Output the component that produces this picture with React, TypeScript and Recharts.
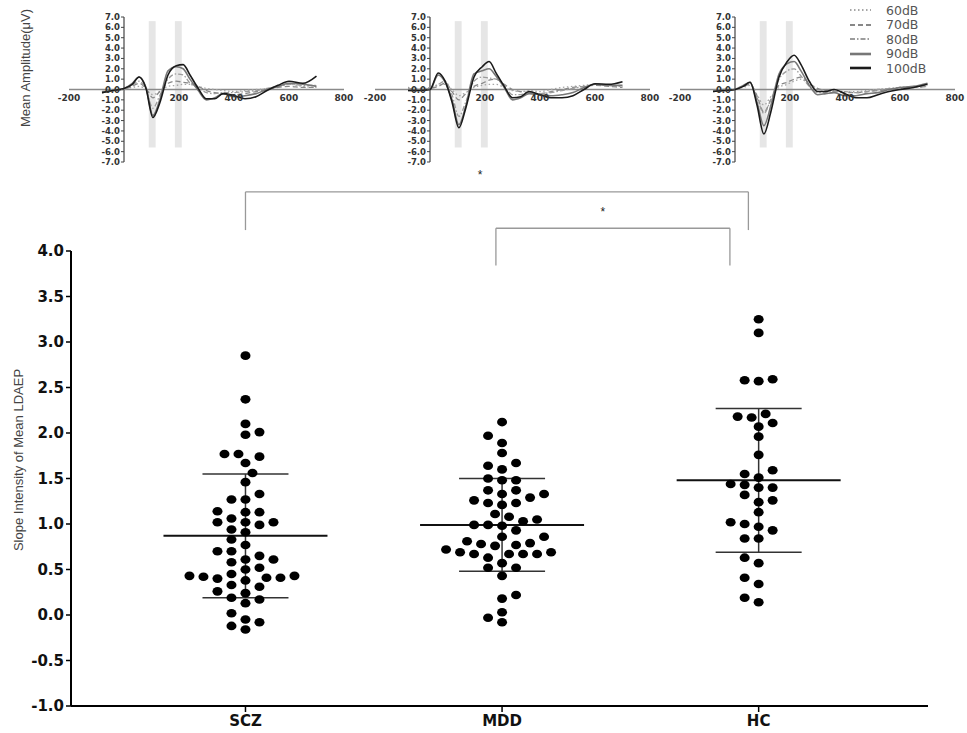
import React from 'react';
import {
  ScatterChart, Scatter, LineChart, Line, XAxis, YAxis, ErrorBar,
  ReferenceLine, ReferenceArea, ReferenceDot, Legend,
} from 'recharts';

// ---- slope dot plot data ----
const groups = ['SCZ', 'MDD', 'HC'];
const sczSlope = [
  2.85, 2.37, 2.10, 1.98, 2.01, 1.77, 1.74, 1.77, 1.67, 1.56, 1.46, 1.27, 1.27, 1.33,
  1.13, 1.13, 1.14, 1.02, 1.02, 1.06, 0.99, 1.02, 0.94, 0.91, 0.83, 0.77, 0.70, 0.70,
  0.61, 0.61, 0.65, 0.58, 0.52, 0.50, 0.45, 0.38, 0.41, 0.43, 0.42, 0.41, 0.43, 0.40,
  0.33, 0.31, 0.26, 0.24, 0.17, 0.13, 0.19, 0.02, -0.08, -0.05, -0.16, -0.12,
];
const mddSlope = [
  2.12, 1.97, 1.89, 1.78, 1.64, 1.60, 1.67, 1.48, 1.50, 1.48, 1.33, 1.37, 1.37, 1.33,
  1.26, 1.29, 1.23, 1.21, 1.23, 1.11, 1.08, 1.05, 1.03, 0.98, 0.99, 0.99, 0.93, 0.86,
  0.86, 0.79, 0.77, 0.78, 0.81, 0.76, 0.72, 0.69, 0.67, 0.67, 0.67, 0.67, 0.69, 0.63,
  0.52, 0.57, 0.52, 0.43, 0.22, 0.18, 0.03, -0.03, -0.08,
];
const hcSlope = [
  3.25, 3.10, 2.59, 2.57, 2.58, 2.21, 2.17, 2.18, 2.07, 2.11, 1.96, 1.76, 1.59, 1.55,
  1.51, 1.40, 1.43, 1.40, 1.44, 1.32, 1.24, 1.26, 1.13, 1.02, 0.97, 0.93, 1.00, 0.84,
  0.84, 0.57, 0.63, 0.41, 0.34, 0.14, 0.19,
];
const groupMean = [0.87, 0.99, 1.48];
const groupSd = [0.68, 0.51, 0.79];
const slopeTicks = [-1, -0.5, 0, 0.5, 1, 1.5, 2, 2.5, 3, 3.5, 4];

// ---- ERP waveforms (ms, µV) ----
const erpTime = [-80, -40, 0, 30, 55, 80, 105, 130, 160, 190, 215, 240, 270, 300, 330, 360, 400, 440, 480, 520, 560, 600, 650, 700];
const ampTicks = [-7, -6, -5, -4, -3, -2, -1, 0, 1, 2, 3, 4, 5, 6, 7];
const timeTicks = [-200, 200, 400, 600, 800];
const levels = ['60dB', '70dB', '80dB', '90dB', '100dB'];

const scz60 = [-0.2, 0.0, 0.1, 0.2, 0.3, 0.0, -0.5, -0.2, 0.3, 0.4, 0.5, 0.5, 0.3, 0.1, 0.0, -0.1, -0.2, -0.1, 0.0, 0.1, 0.3, 0.5, 0.3, 0.2];
const scz70 = [-0.2, -0.1, 0.0, 0.3, 0.6, 0.1, -0.8, -0.2, 0.6, 0.8, 0.7, 0.6, 0.3, -0.1, -0.3, -0.4, -0.5, -0.4, -0.2, 0.0, 0.2, 0.3, 0.2, 0.2];
const scz80 = [-0.2, -0.1, 0.0, 0.4, 0.8, 0.0, -1.8, -0.6, 1.0, 1.5, 1.4, 0.6, 0.2, -0.3, -0.4, -0.3, -0.3, -0.2, -0.1, 0.1, 0.3, 0.5, 0.4, 0.4];
const scz90 = [-0.3, -0.1, 0.1, 0.6, 1.2, 0.2, -2.5, -1.0, 1.8, 2.2, 2.0, 1.0, -0.1, -1.0, -0.8, -0.4, -0.7, -0.6, -0.4, 0.0, 0.3, 0.6, 0.5, 0.3];
const scz100 = [-0.3, -0.1, 0.1, 0.5, 1.2, 0.1, -2.7, -1.3, 1.4, 2.3, 2.4, 1.4, 0.1, -0.9, -0.9, -0.4, -0.6, -0.9, -0.7, -0.1, 0.4, 0.8, 0.6, 1.3];

const mdd60 = [0.2, 0.1, 0.2, 0.4, 0.5, 0.0, -0.6, -0.3, 0.2, 0.4, 0.5, 0.5, 0.2, -0.1, -0.2, -0.1, -0.2, 0.0, 0.2, 0.3, 0.4, 0.5, 0.4, 0.3];
const mdd70 = [0.1, 0.0, 0.1, 0.3, 0.6, -0.2, -1.0, -0.4, 0.3, 0.6, 0.9, 1.0, 0.5, 0.0, -0.2, -0.3, -0.4, -0.2, 0.0, 0.2, 0.3, 0.4, 0.3, 0.2];
const mdd80 = [0.1, 0.0, 0.2, 0.5, 0.8, -0.5, -2.6, -1.2, 0.8, 1.2, 1.1, 1.0, 0.4, -0.5, -0.5, -0.3, -0.4, -0.3, -0.1, 0.1, 0.3, 0.5, 0.4, 0.3];
const mdd90 = [-0.1, -0.1, 0.0, 1.4, 0.7, -1.0, -3.4, -1.6, 1.5, 1.8, 2.0, 1.3, 0.2, -1.0, -0.8, -0.4, -0.5, -0.6, -0.5, -0.3, 0.2, 0.5, 0.4, 0.4];
const mdd100 = [-0.1, -0.1, 0.0, 1.6, 0.8, -1.2, -3.7, -1.8, 1.2, 2.2, 2.7, 1.6, 0.3, -0.8, -0.7, -0.2, -0.5, -0.8, -0.8, -0.6, 0.0, 0.55, 0.5, 0.75];

const hc60 = [-0.1, 0.0, 0.0, 0.2, 0.4, -0.5, -1.5, -0.7, 0.2, 0.5, 0.8, 1.0, 0.5, 0.1, -0.1, -0.1, -0.2, -0.2, -0.1, 0.0, 0.1, 0.1, 0.2, 0.3];
const hc70 = [-0.1, 0.0, 0.0, 0.3, 0.5, -0.6, -2.2, -1.0, 0.4, 0.7, 1.0, 1.2, 0.6, 0.1, -0.1, -0.2, -0.3, -0.3, -0.2, -0.1, 0.0, 0.2, 0.2, 0.3];
const hc80 = [-0.1, 0.0, 0.0, 0.3, 0.6, -0.8, -2.3, -1.0, 1.0, 1.8, 2.0, 1.3, 0.3, -0.3, -0.3, -0.2, -0.2, -0.3, -0.2, 0.0, 0.1, 0.2, 0.3, 0.4];
const hc90 = [-0.2, -0.1, 0.0, 0.4, 0.7, -1.2, -3.5, -1.6, 1.5, 2.5, 2.7, 1.8, 0.4, -0.5, -0.4, -0.3, -0.6, -0.6, -0.4, -0.3, 0.0, 0.2, 0.3, 0.6];
const hc100 = [-0.2, -0.1, 0.0, 0.3, 0.7, -1.5, -4.3, -2.2, 1.2, 2.7, 3.3, 2.4, 0.8, -0.2, -0.2, 0.0, -0.4, -0.8, -0.8, -0.5, -0.2, 0.0, 0.2, 0.5];

// ---- layout ----
const W = 967;
const H = 733;
const PLOT = { left: 71, top: 251, right: 928, bottom: 706 };
const X_DOMAIN: [number, number] = [0.32, 3.66];
const pxPerX = (PLOT.right - PLOT.left) / (X_DOMAIN[1] - X_DOMAIN[0]);
const pxPerY = (PLOT.bottom - PLOT.top) / 5;

const ERP_TOP = 17;
const ERP_PLOT_H = 145;
const ERP_PLOT_W = 275;
const ERP_PAD = 16; // room for the "-200" label left of the plot
const ERP_ZERO_Y = ERP_TOP + ERP_PLOT_H / 2;
const ERP_AXIS_X = ERP_PAD + 1 + (ERP_PLOT_W * 200) / 1000;
const PLOT_LEFT = [69, 375, 680]; // page x of -200 ms in each panel

const lineStyle: Record<string, { stroke: string; width: number; dash?: string }> = {
  '60dB': { stroke: '#a6a6a6', width: 1.3, dash: '1.5 2.5' },
  '70dB': { stroke: '#888888', width: 1.3, dash: '5 3' },
  '80dB': { stroke: '#9c9c9c', width: 1.3, dash: '5 2 1.5 2' },
  '90dB': { stroke: '#777777', width: 1.6 },
  '100dB': { stroke: '#1a1a1a', width: 1.6 },
};

// beeswarm-style horizontal spread so the dots don't overlap
function swarm(values: number[], center: number) {
  const placed: { dx: number; py: number }[] = [];
  const order = values.map((_, i) => i).sort((a, b) => values[a] - values[b]);
  const pts: { x: number; y: number }[] = [];
  order.forEach((i, n) => {
    const py = values[i] * pxPerY;
    const fits = (dx: number) =>
      placed.every((p) => ((dx - p.dx) / 13) ** 2 + ((py - p.py) / 10) ** 2 >= 1);
    const side = n % 2 === 0 ? 1 : -1;
    let dx = 0;
    for (let k = 0; k < 40; k++) {
      const cands = k === 0 ? [0] : [side * k * 7, -side * k * 7];
      const hit = cands.find(fits);
      if (hit !== undefined) {
        dx = hit;
        break;
      }
    }
    placed.push({ dx, py });
    pts.push({ x: center + dx / pxPerX, y: values[i] });
  });
  return pts;
}

const sczPts = swarm(sczSlope, 1);
const mddPts = swarm(mddSlope, 2);
const hcPts = swarm(hcSlope, 3);
const summary = groups.map((g, i) => ({ x: i + 1, y: groupMean[i], sd: groupSd[i] }));

const dot = (p: any) => <ellipse cx={p.cx} cy={p.cy} rx={5} ry={4.3} fill="#000" />;
const meanBar = (p: any) => (
  <line x1={p.cx - 82} x2={p.cx + 82} y1={p.cy} y2={p.cy} stroke="#111" strokeWidth={2} />
);
const star = (p: any) => (
  <text x={p.cx} y={p.cy} textAnchor="middle" dominantBaseline="central" fontSize={12} fill="#222" fontFamily="Liberation Sans, Arial">*</text>
);

const ErpTimeTick = (p: any) => (
  <text x={p.x} y={ERP_ZERO_Y + 11} textAnchor="middle" fontSize={9} fontWeight="bold" fill="#333" fontFamily="DejaVu Sans">
    {p.payload.value}
  </text>
);
const ErpAmpTick = (p: any) => (
  <g>
    <line x1={ERP_AXIS_X - 3} x2={ERP_AXIS_X} y1={p.y} y2={p.y} stroke="#444" strokeWidth={1} />
    <text x={ERP_AXIS_X - 4} y={p.y} dy={3} textAnchor="end" fontSize={8.5} fontWeight="bold" fill="#333" fontFamily="DejaVu Sans">
      {Number(p.payload.value).toFixed(1)}
    </text>
  </g>
);

const LevelLegend = () => (
  <div style={{ fontFamily: 'DejaVu Sans', fontSize: 12.5, color: '#555' }}>
    {levels.map((l) => {
      const s = lineStyle[l];
      return (
        <div key={l} style={{ height: 14.5, display: 'flex', alignItems: 'center' }}>
          <svg width={21} height={6}>
            <line x1={0} x2={21} y1={3} y2={3} stroke={s.stroke} strokeWidth={l === '90dB' || l === '100dB' ? 2.6 : 2} strokeDasharray={s.dash} />
          </svg>
          <span style={{ marginLeft: 15 }}>{l}</span>
        </div>
      );
    })}
  </div>
);

function ErpPanel({ plotLeft, series, legend }: { plotLeft: number; series: number[][]; legend?: boolean }) {
  const data = erpTime.map((t, i) => {
    const row: Record<string, number> = { t };
    levels.forEach((l, k) => { row[l] = series[k][i]; });
    return row;
  });
  const left = plotLeft - 1 - ERP_PAD;
  const width = Math.min(ERP_PAD + 1 + ERP_PLOT_W + 16, W - left);
  return (
    <div style={{ position: 'absolute', left, top: 0 }}>
      <LineChart width={width} height={175} data={data} margin={{ top: ERP_TOP, right: width - ERP_PAD - 1 - ERP_PLOT_W, bottom: 12, left: ERP_PAD }}>
        <XAxis type="number" dataKey="t" domain={[-200, 800]} ticks={timeTicks} interval={0} height={1} axisLine={false} tickLine={false} tick={<ErpTimeTick />} />
        <YAxis type="number" domain={[-7, 7]} ticks={ampTicks} interval={0} width={1} axisLine={false} tickLine={false} tick={<ErpAmpTick />} />
        <ReferenceArea x1={90} x2={115} y1={-5.6} y2={6.6} fill="#e6e6e6" fillOpacity={1} stroke="none" />
        <ReferenceArea x1={185} x2={210} y1={-5.6} y2={6.6} fill="#e6e6e6" fillOpacity={1} stroke="none" />
        <ReferenceLine y={0} stroke="#8a8a8a" strokeWidth={1.5} />
        <ReferenceLine segment={[{ x: 0, y: -7 }, { x: 0, y: 7 }]} stroke="#444" strokeWidth={1.2} />
        {levels.map((l) => (
          <Line key={l} dataKey={l} type="monotone" dot={false} stroke={lineStyle[l].stroke} strokeWidth={lineStyle[l].width} strokeDasharray={lineStyle[l].dash} isAnimationActive={false} />
        ))}
        {legend && (
          <Legend layout="vertical" align="center" verticalAlign="middle" content={<LevelLegend />} wrapperStyle={{ left: 850 - left, top: 3, width: 100 }} />
        )}
      </LineChart>
    </div>
  );
}

export default function App() {
  return (
    <div style={{ position: 'absolute', left: 0, top: 0, width: W, height: H, background: '#fff', overflow: 'hidden' }}>
      <ErpPanel plotLeft={PLOT_LEFT[0]} series={[scz60, scz70, scz80, scz90, scz100]} />
      <ErpPanel plotLeft={PLOT_LEFT[1]} series={[mdd60, mdd70, mdd80, mdd90, mdd100]} />
      <ErpPanel plotLeft={PLOT_LEFT[2]} series={[hc60, hc70, hc80, hc90, hc100]} legend />

      <div style={{ position: 'absolute', left: 0, top: 0 }}>
        <ScatterChart width={W} height={H} margin={{ top: PLOT.top, right: W - PLOT.right, bottom: 0, left: 0 }}>
          <XAxis
            type="number" dataKey="x" domain={X_DOMAIN} ticks={[1, 2, 3]} interval={0} allowDataOverflow
            tickFormatter={(v: number) => groups[v - 1]} height={H - PLOT.bottom}
            axisLine={{ stroke: '#000', strokeWidth: 2 }} tickLine={{ stroke: '#000', strokeWidth: 1.5 }}
            tickSize={6} tickMargin={3}
            tick={{ fontSize: 15, fontWeight: 'bold', fill: '#111', fontFamily: 'DejaVu Sans' }}
          />
          <YAxis
            type="number" dataKey="y" domain={[-1, 4]} ticks={slopeTicks} interval={0} allowDataOverflow
            tickFormatter={(v: number) => v.toFixed(1)} width={PLOT.left}
            axisLine={{ stroke: '#000', strokeWidth: 2 }} tickLine={{ stroke: '#000', strokeWidth: 1.5 }}
            tickSize={5} tickMargin={2}
            tick={{ fontSize: 15, fontWeight: 'bold', fill: '#111', fontFamily: 'DejaVu Sans' }}
          />
          <Scatter data={summary} shape={meanBar} isAnimationActive={false}>
            <ErrorBar dataKey="sd" direction="y" width={43} stroke="#333" strokeWidth={1.5} />
          </Scatter>
          <Scatter data={sczPts} shape={dot} isAnimationActive={false} />
          <Scatter data={mddPts} shape={dot} isAnimationActive={false} />
          <Scatter data={hcPts} shape={dot} isAnimationActive={false} />

          <ReferenceLine ifOverflow="visible" segment={[{ x: 1, y: 4.23 }, { x: 1, y: 4.65 }]} stroke="#999" strokeWidth={1.3} />
          <ReferenceLine ifOverflow="visible" segment={[{ x: 1, y: 4.65 }, { x: 2.96, y: 4.65 }]} stroke="#999" strokeWidth={1.3} />
          <ReferenceLine ifOverflow="visible" segment={[{ x: 2.96, y: 4.65 }, { x: 2.96, y: 4.23 }]} stroke="#999" strokeWidth={1.3} />
          <ReferenceLine ifOverflow="visible" segment={[{ x: 1.976, y: 3.84 }, { x: 1.976, y: 4.25 }]} stroke="#999" strokeWidth={1.3} />
          <ReferenceLine ifOverflow="visible" segment={[{ x: 1.976, y: 4.25 }, { x: 2.888, y: 4.25 }]} stroke="#999" strokeWidth={1.3} />
          <ReferenceLine ifOverflow="visible" segment={[{ x: 2.888, y: 4.25 }, { x: 2.888, y: 3.84 }]} stroke="#999" strokeWidth={1.3} />
          <ReferenceDot ifOverflow="visible" x={1.914} y={4.84} shape={star} />
          <ReferenceDot ifOverflow="visible" x={2.393} y={4.43} shape={star} />
        </ScatterChart>
      </div>

      <svg width={W} height={H} style={{ position: 'absolute', left: 0, top: 0, pointerEvents: 'none' }}>
        <text transform="translate(25,68) rotate(-90)" textAnchor="middle" dominantBaseline="central" fontSize={13} fill="#444" fontFamily="Liberation Sans, Arial">
          Mean Amplitude(μV)
        </text>
        <text transform="translate(18,460) rotate(-90)" textAnchor="middle" dominantBaseline="central" fontSize={13} fill="#444" fontFamily="Liberation Sans, Arial">
          Slope Intensity of Mean LDAEP
        </text>
      </svg>
    </div>
  );
}
